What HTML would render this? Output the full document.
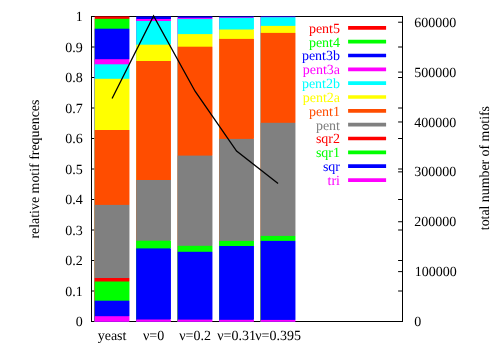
<!DOCTYPE html>
<html><head><meta charset="utf-8"><title>motif frequencies</title>
<style>
html,body{margin:0;padding:0;background:#fff;}
body{width:498px;height:349px;overflow:hidden;}
svg{display:block;will-change:transform;}
text{font-family:"Liberation Serif",serif;font-size:14px;text-rendering:geometricPrecision;}
</style></head>
<body>
<svg width="498" height="349" viewBox="0 0 498 349">
<rect x="0" y="0" width="498" height="349" fill="#ffffff"/>
<g stroke="#000" stroke-width="1" fill="none">
<rect x="91.5" y="16.5" width="311" height="305"/>
<path d="M91.5 321.50h4.4M402.5 321.50h-4.4"/>
<path d="M91.5 291.00h4.4M402.5 291.00h-4.4"/>
<path d="M91.5 260.50h4.4M402.5 260.50h-4.4"/>
<path d="M91.5 230.00h4.4M402.5 230.00h-4.4"/>
<path d="M91.5 199.50h4.4M402.5 199.50h-4.4"/>
<path d="M91.5 169.00h4.4M402.5 169.00h-4.4"/>
<path d="M91.5 138.50h4.4M402.5 138.50h-4.4"/>
<path d="M91.5 108.00h4.4M402.5 108.00h-4.4"/>
<path d="M91.5 77.50h4.4M402.5 77.50h-4.4"/>
<path d="M91.5 47.00h4.4M402.5 47.00h-4.4"/>
<path d="M91.5 16.50h4.4M402.5 16.50h-4.4"/>
<path d="M402.5 321.50h-4.4"/>
<path d="M402.5 271.62h-4.4"/>
<path d="M402.5 221.74h-4.4"/>
<path d="M402.5 171.86h-4.4"/>
<path d="M402.5 121.98h-4.4"/>
<path d="M402.5 72.10h-4.4"/>
<path d="M402.5 22.22h-4.4"/>
</g>
<g>
<rect x="94.70" y="16.40" width="34.30" height="305.35" fill="#ff0000"/>
<rect x="129.00" y="16.40" width="0.45" height="2.40" fill="#ff0000"/>
<rect x="94.70" y="18.80" width="34.30" height="302.95" fill="#00ff00"/>
<rect x="129.00" y="18.80" width="0.45" height="9.90" fill="#00ff00"/>
<rect x="94.70" y="28.70" width="34.30" height="293.05" fill="#0000ff"/>
<rect x="129.00" y="28.70" width="0.45" height="30.50" fill="#0000ff"/>
<rect x="94.70" y="59.20" width="34.30" height="262.55" fill="#ff00ff"/>
<rect x="129.00" y="59.20" width="0.45" height="5.10" fill="#ff00ff"/>
<rect x="94.70" y="64.30" width="34.30" height="257.45" fill="#00ffff"/>
<rect x="129.00" y="64.30" width="0.45" height="14.50" fill="#00ffff"/>
<rect x="94.70" y="78.80" width="34.30" height="242.95" fill="#ffff00"/>
<rect x="129.00" y="78.80" width="0.45" height="51.20" fill="#ffff00"/>
<rect x="94.70" y="130.00" width="34.30" height="191.75" fill="#ff4d00"/>
<rect x="129.00" y="130.00" width="0.45" height="74.90" fill="#ff4d00"/>
<rect x="94.70" y="204.90" width="34.30" height="116.85" fill="#808080"/>
<rect x="129.00" y="204.90" width="0.45" height="73.10" fill="#808080"/>
<rect x="94.70" y="278.00" width="34.30" height="43.75" fill="#ff0000"/>
<rect x="129.00" y="278.00" width="0.45" height="3.50" fill="#ff0000"/>
<rect x="94.70" y="281.50" width="34.30" height="40.25" fill="#00ff00"/>
<rect x="129.00" y="281.50" width="0.45" height="19.20" fill="#00ff00"/>
<rect x="94.70" y="300.70" width="34.30" height="21.05" fill="#0000ff"/>
<rect x="129.00" y="300.70" width="0.45" height="15.50" fill="#0000ff"/>
<rect x="94.70" y="316.20" width="34.30" height="5.55" fill="#ff00ff"/>
<rect x="129.00" y="316.20" width="0.45" height="5.55" fill="#ff00ff"/>
<rect x="136.20" y="16.40" width="33.80" height="305.35" fill="#0000ff"/>
<rect x="170.00" y="16.40" width="0.95" height="2.60" fill="#0000ff"/>
<rect x="136.20" y="19.00" width="33.80" height="302.75" fill="#ff00ff"/>
<rect x="170.00" y="19.00" width="0.95" height="2.00" fill="#ff00ff"/>
<rect x="136.20" y="21.00" width="33.80" height="300.75" fill="#00ffff"/>
<rect x="170.00" y="21.00" width="0.95" height="23.70" fill="#00ffff"/>
<rect x="136.20" y="44.70" width="33.80" height="277.05" fill="#ffff00"/>
<rect x="170.00" y="44.70" width="0.95" height="16.30" fill="#ffff00"/>
<rect x="136.20" y="61.00" width="33.80" height="260.75" fill="#ff4d00"/>
<rect x="170.00" y="61.00" width="0.95" height="119.00" fill="#ff4d00"/>
<rect x="136.20" y="180.00" width="33.80" height="141.75" fill="#808080"/>
<rect x="170.00" y="180.00" width="0.95" height="60.70" fill="#808080"/>
<rect x="136.20" y="240.70" width="33.80" height="81.05" fill="#00ff00"/>
<rect x="170.00" y="240.70" width="0.95" height="7.70" fill="#00ff00"/>
<rect x="136.20" y="248.40" width="33.80" height="73.35" fill="#0000ff"/>
<rect x="170.00" y="248.40" width="0.95" height="71.10" fill="#0000ff"/>
<rect x="136.20" y="319.50" width="33.80" height="2.25" fill="#ff00ff"/>
<rect x="170.00" y="319.50" width="0.95" height="2.25" fill="#ff00ff"/>
<rect x="177.70" y="16.40" width="34.30" height="305.35" fill="#0000ff"/>
<rect x="212.00" y="16.40" width="0.45" height="1.40" fill="#0000ff"/>
<rect x="177.70" y="17.80" width="34.30" height="303.95" fill="#ff00ff"/>
<rect x="212.00" y="17.80" width="0.45" height="1.10" fill="#ff00ff"/>
<rect x="177.70" y="18.90" width="34.30" height="302.85" fill="#00ffff"/>
<rect x="212.00" y="18.90" width="0.45" height="15.20" fill="#00ffff"/>
<rect x="177.70" y="34.10" width="34.30" height="287.65" fill="#ffff00"/>
<rect x="212.00" y="34.10" width="0.45" height="12.60" fill="#ffff00"/>
<rect x="177.70" y="46.70" width="34.30" height="275.05" fill="#ff4d00"/>
<rect x="212.00" y="46.70" width="0.45" height="108.90" fill="#ff4d00"/>
<rect x="177.70" y="155.60" width="34.30" height="166.15" fill="#808080"/>
<rect x="212.00" y="155.60" width="0.45" height="90.20" fill="#808080"/>
<rect x="177.70" y="245.80" width="34.30" height="75.95" fill="#00ff00"/>
<rect x="212.00" y="245.80" width="0.45" height="6.00" fill="#00ff00"/>
<rect x="177.70" y="251.80" width="34.30" height="69.95" fill="#0000ff"/>
<rect x="212.00" y="251.80" width="0.45" height="67.80" fill="#0000ff"/>
<rect x="177.70" y="319.60" width="34.30" height="2.15" fill="#ff00ff"/>
<rect x="212.00" y="319.60" width="0.45" height="2.15" fill="#ff00ff"/>
<rect x="219.20" y="16.40" width="33.80" height="305.35" fill="#0000ff"/>
<rect x="253.00" y="16.40" width="0.95" height="0.90" fill="#0000ff"/>
<rect x="219.20" y="17.30" width="33.80" height="304.45" fill="#ff00ff"/>
<rect x="253.00" y="17.30" width="0.95" height="0.50" fill="#ff00ff"/>
<rect x="219.20" y="17.80" width="33.80" height="303.95" fill="#00ffff"/>
<rect x="253.00" y="17.80" width="0.95" height="11.70" fill="#00ffff"/>
<rect x="219.20" y="29.50" width="33.80" height="292.25" fill="#ffff00"/>
<rect x="253.00" y="29.50" width="0.95" height="9.40" fill="#ffff00"/>
<rect x="219.20" y="38.90" width="33.80" height="282.85" fill="#ff4d00"/>
<rect x="253.00" y="38.90" width="0.95" height="100.00" fill="#ff4d00"/>
<rect x="219.20" y="138.90" width="33.80" height="182.85" fill="#808080"/>
<rect x="253.00" y="138.90" width="0.95" height="102.00" fill="#808080"/>
<rect x="219.20" y="240.90" width="33.80" height="80.85" fill="#00ff00"/>
<rect x="253.00" y="240.90" width="0.95" height="5.10" fill="#00ff00"/>
<rect x="219.20" y="246.00" width="33.80" height="75.75" fill="#0000ff"/>
<rect x="253.00" y="246.00" width="0.95" height="73.80" fill="#0000ff"/>
<rect x="219.20" y="319.80" width="33.80" height="1.95" fill="#ff00ff"/>
<rect x="253.00" y="319.80" width="0.95" height="1.95" fill="#ff00ff"/>
<rect x="260.70" y="16.40" width="34.30" height="305.35" fill="#0000ff"/>
<rect x="295.00" y="16.40" width="0.45" height="0.50" fill="#0000ff"/>
<rect x="260.70" y="16.90" width="34.30" height="304.85" fill="#ff00ff"/>
<rect x="295.00" y="16.90" width="0.45" height="0.30" fill="#ff00ff"/>
<rect x="260.70" y="17.20" width="34.30" height="304.55" fill="#00ffff"/>
<rect x="295.00" y="17.20" width="0.45" height="8.70" fill="#00ffff"/>
<rect x="260.70" y="25.90" width="34.30" height="295.85" fill="#ffff00"/>
<rect x="295.00" y="25.90" width="0.45" height="7.00" fill="#ffff00"/>
<rect x="260.70" y="32.90" width="34.30" height="288.85" fill="#ff4d00"/>
<rect x="295.00" y="32.90" width="0.45" height="89.90" fill="#ff4d00"/>
<rect x="260.70" y="122.80" width="34.30" height="198.95" fill="#808080"/>
<rect x="295.00" y="122.80" width="0.45" height="113.10" fill="#808080"/>
<rect x="260.70" y="235.90" width="34.30" height="85.85" fill="#00ff00"/>
<rect x="295.00" y="235.90" width="0.45" height="5.00" fill="#00ff00"/>
<rect x="260.70" y="240.90" width="34.30" height="80.85" fill="#0000ff"/>
<rect x="295.00" y="240.90" width="0.45" height="79.00" fill="#0000ff"/>
<rect x="260.70" y="319.90" width="34.30" height="1.85" fill="#ff00ff"/>
<rect x="295.00" y="319.90" width="0.45" height="1.85" fill="#ff00ff"/>
</g>
<polyline fill="none" stroke="#000" stroke-width="1.3" stroke-linejoin="miter" points="112.08,98.50 153.57,16.00 195.07,91.20 236.57,151.00 278.07,183.60"/>
<text x="82.8" y="326.25" text-anchor="end">0</text>
<text x="82.8" y="295.50" text-anchor="end">0.1</text>
<text x="82.8" y="265.00" text-anchor="end">0.2</text>
<text x="82.8" y="234.50" text-anchor="end">0.3</text>
<text x="82.8" y="204.00" text-anchor="end">0.4</text>
<text x="82.8" y="173.50" text-anchor="end">0.5</text>
<text x="82.8" y="143.00" text-anchor="end">0.6</text>
<text x="82.8" y="112.50" text-anchor="end">0.7</text>
<text x="82.8" y="82.00" text-anchor="end">0.8</text>
<text x="82.8" y="51.60" text-anchor="end">0.9</text>
<text x="82.8" y="21.40" text-anchor="end">1</text>
<text x="414.3" y="326.40">0</text>
<text x="414.8" y="275.62">100000</text>
<text x="414.3" y="225.94">200000</text>
<text x="414.3" y="176.36">300000</text>
<text x="414.3" y="126.58">400000</text>
<text x="414.3" y="76.70">500000</text>
<text x="414.3" y="27.12">600000</text>
<text x="112.08" y="340" text-anchor="middle">yeast</text>
<text x="153.57" y="340" text-anchor="middle">ν=0</text>
<text x="195.07" y="340" text-anchor="middle">ν=0.2</text>
<text x="236.57" y="340" text-anchor="middle">ν=0.31</text>
<text x="278.07" y="340" text-anchor="middle">ν=0.395</text>
<text x="340" y="32.70" text-anchor="end" fill="#ff0000">pent5</text>
<path d="M348.1 27.80H386.1" stroke="#ff0000" stroke-width="3.7" fill="none"/>
<text x="340" y="46.54" text-anchor="end" fill="#00ff00">pent4</text>
<path d="M348.1 41.64H386.1" stroke="#00ff00" stroke-width="3.7" fill="none"/>
<text x="340" y="60.38" text-anchor="end" fill="#0000ff">pent3b</text>
<path d="M348.1 55.48H386.1" stroke="#0000ff" stroke-width="3.7" fill="none"/>
<text x="340" y="74.22" text-anchor="end" fill="#ff00ff">pent3a</text>
<path d="M348.1 69.32H386.1" stroke="#ff00ff" stroke-width="3.7" fill="none"/>
<text x="340" y="88.06" text-anchor="end" fill="#00ffff">pent2b</text>
<path d="M348.1 83.16H386.1" stroke="#00ffff" stroke-width="3.7" fill="none"/>
<text x="340" y="101.90" text-anchor="end" fill="#ffff00">pent2a</text>
<path d="M348.1 97.00H386.1" stroke="#ffff00" stroke-width="3.7" fill="none"/>
<text x="340" y="115.74" text-anchor="end" fill="#ff4d00">pent1</text>
<path d="M348.1 110.84H386.1" stroke="#ff4d00" stroke-width="3.7" fill="none"/>
<text x="340" y="129.58" text-anchor="end" fill="#808080">pent</text>
<path d="M348.1 124.68H386.1" stroke="#808080" stroke-width="3.7" fill="none"/>
<text x="340" y="143.42" text-anchor="end" fill="#ff0000">sqr2</text>
<path d="M348.1 138.52H386.1" stroke="#ff0000" stroke-width="3.7" fill="none"/>
<text x="340" y="157.26" text-anchor="end" fill="#00ff00">sqr1</text>
<path d="M348.1 152.36H386.1" stroke="#00ff00" stroke-width="3.7" fill="none"/>
<text x="340" y="171.10" text-anchor="end" fill="#0000ff">sqr</text>
<path d="M348.1 166.20H386.1" stroke="#0000ff" stroke-width="3.7" fill="none"/>
<text x="340" y="184.94" text-anchor="end" fill="#ff00ff">tri</text>
<path d="M348.1 180.04H386.1" stroke="#ff00ff" stroke-width="3.7" fill="none"/>
<text transform="translate(39,238.6) rotate(-90)" textLength="139" lengthAdjust="spacingAndGlyphs">relative motif frequences</text>
<text transform="translate(488.6,230.2) rotate(-90)" textLength="124.2" lengthAdjust="spacingAndGlyphs">total number of motifs</text>
</svg>
</body></html>
